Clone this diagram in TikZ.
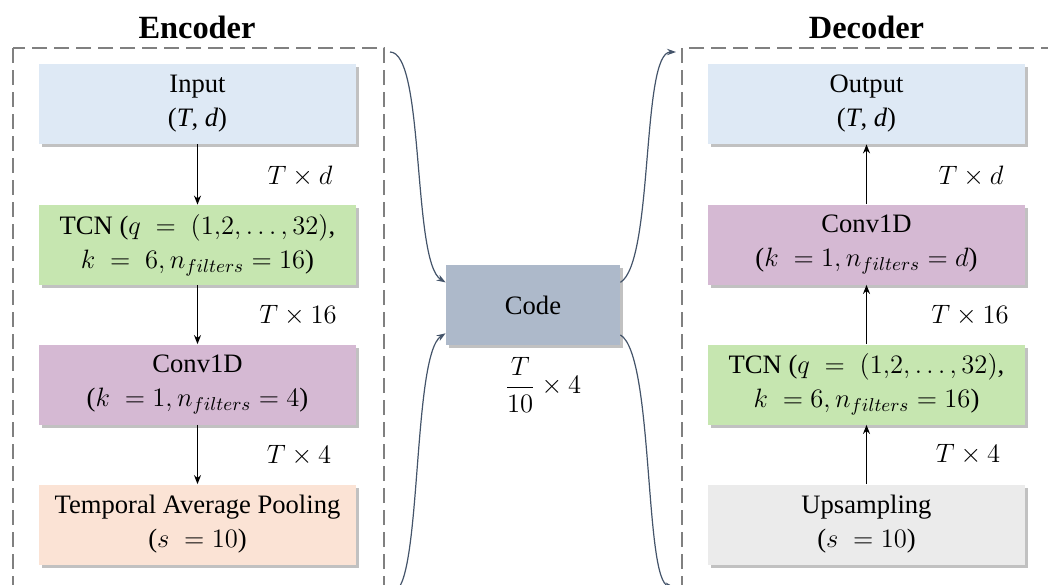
\documentclass[tikz,border=0pt]{standalone}
\usepackage{fix-cm}
\usepackage{fontspec}
\IfFontExistsTF{LiberationSerif-Regular.ttf}
  {\setmainfont{LiberationSerif}[Extension=.ttf,UprightFont=*-Regular,BoldFont=*-Bold,ItalicFont=*-Italic,BoldItalicFont=*-BoldItalic]}
  {\setmainfont{Liberation Serif}}
\usetikzlibrary{arrows.meta,shadows,calc}
\definecolor{cInput}{HTML}{DEE9F5}
\definecolor{cTCN}{HTML}{C6E6B0}
\definecolor{cConv}{HTML}{D5B9D3}
\definecolor{cPool}{HTML}{FBE3D5}
\definecolor{cUp}{HTML}{EBEBEB}
\definecolor{cCode}{HTML}{ADB9CA}
\definecolor{cDash}{HTML}{808080}
\definecolor{cCurve}{HTML}{44546A}
\tikzset{
  layer/.style={draw=none, minimum width=158.5pt, minimum height=40pt, align=center,
    font=\rmfamily\fontsize{13.3}{17}\selectfont, inner sep=0pt,
    drop shadow={shadow xshift=1.5pt, shadow yshift=-1.5pt, opacity=0.35, fill=black!70}},
  codebox/.style={layer, minimum width=87pt},
  frame/.style={draw=cDash, line width=1.2pt, dash pattern=on 7.5pt off 3.5pt},
  title/.style={font=\rmfamily\fontsize{16.2}{19}\selectfont\bfseries, anchor=base, inner sep=0pt},
  dimlabel/.style={font=\rmfamily\fontsize{13.3}{17}\selectfont, inner sep=0pt},
  flow/.style={draw=black, line width=0.9pt, -{Stealth[length=4.5pt,width=3.5pt]}},
  link/.style={draw=cCurve, line width=0.6pt, -{Stealth[length=4.5pt,width=3.2pt]}}
}
\begin{document}
\begin{tikzpicture}[x=0.5pt,y=-0.5pt]
\useasboundingbox (0,0) rectangle (1048,584);
\clip (0,0) rectangle (1048,584);
% frames
\draw[frame] (13,48) rectangle (384,640);
\draw[frame] (682,48) rectangle (1080,640);
\node[title] (enc) at (197,38) {Encoder};
\node[title] (dec) at (866.5,38) {Decoder};
% encoder
\node[layer, fill=cInput] (in) at (197.5,104) {Input\\(\textit{T}, \textit{d})};
\node[layer, fill=cTCN] (tcn1) at (197.5,245) {TCN ($q\;=\;(1{,}2,\ldots,32)$,\\$k\;=\;6, n_{filters}=16$)};
\node[layer, fill=cConv] (conv1) at (197.5,384.5) {Conv1D\\($k\;=1, n_{filters}=4$)};
\node[layer, fill=cPool] (pool) at (197.5,524.5) {Temporal Average Pooling\\($s\;=10$)};
\draw[flow] (in) -- (tcn1);
\draw[flow] (tcn1) -- (conv1);
\draw[flow] (conv1) -- (pool);
\node[dimlabel] (l1) at (300,176) {$T\times d$};
\node[dimlabel] (l2) at (298,316) {$T\times 16$};
\node[dimlabel] (l3) at (299,456) {$T\times 4$};
% code
\node[codebox, fill=cCode] (code) at (533,305) {Code};
\node[dimlabel] (lc) at (543,385) {$\displaystyle\frac{T}{10}\times 4$};
% decoder
\node[layer, fill=cInput] (out) at (866.5,104) {Output\\(\textit{T}, \textit{d})};
\node[layer, fill=cConv] (conv2) at (866.5,244.5) {Conv1D\\($k\;=1, n_{filters}=d$)};
\node[layer, fill=cTCN] (tcn2) at (866.5,384.5) {TCN ($q\;=\;(1{,}2,\ldots,32)$,\\$k\;=6, n_{filters}=16$)};
\node[layer, fill=cUp] (up) at (866.5,524.5) {Upsampling\\($s\;=10$)};
\draw[flow] (up) -- (tcn2);
\draw[flow] (tcn2) -- (conv2);
\draw[flow] (conv2) -- (out);
\node[dimlabel] (r1) at (971,176) {$T\times d$};
\node[dimlabel] (r2) at (970,316) {$T\times 16$};
\node[dimlabel] (r3) at (968,455) {$T\times 4$};
% curved links
\coordinate (e1) at (390,52);
\coordinate (e2) at (393,592);
\coordinate (d1) at (676,52);
\coordinate (d2) at (674,587);
\coordinate (cin1) at ($(code.north west)!0.22!(code.south west)$);
\coordinate (cin2) at ($(code.north west)!0.85!(code.south west)$);
\coordinate (cout1) at ($(code.north east)!0.22!(code.south east)$);
\coordinate (cout2) at ($(code.north east)!0.87!(code.south east)$);
\draw[link] (e1) .. controls (425,52) and (412,262) .. (cin1);
\draw[link] (e2) .. controls (422,590) and (412,355) .. (cin2);
\draw[link] (cout1) .. controls (654,262) and (641,52) .. (d1);
\draw[link] (cout2) .. controls (654,355) and (644,582) .. (d2);
\end{tikzpicture}
\end{document}
